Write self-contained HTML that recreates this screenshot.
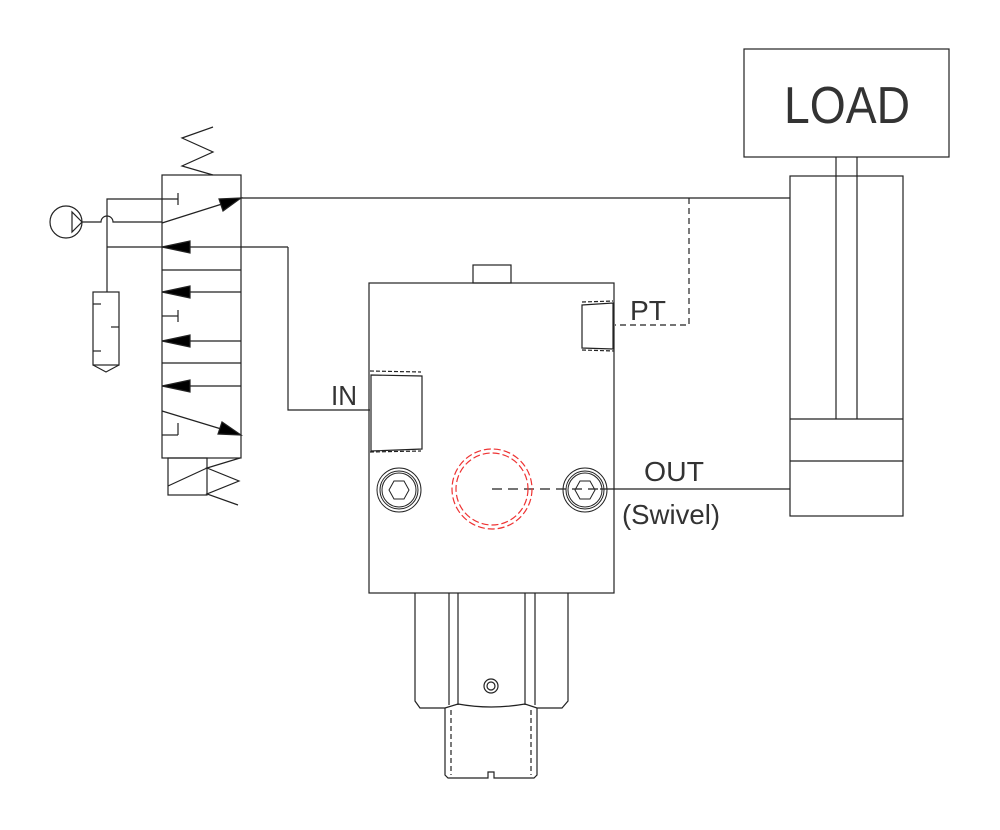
<!DOCTYPE html>
<html><head><meta charset="utf-8"><style>html,body{margin:0;background:#fff}svg{display:block}</style></head><body>
<svg width="1000" height="830" viewBox="0 0 1000 830" xmlns="http://www.w3.org/2000/svg" fill="none" stroke="#222" stroke-width="1.2">
<!-- LOAD -->
<rect x="744" y="49" width="205" height="108"/>
<text x="784" y="123" font-family="Liberation Sans, sans-serif" font-size="52" fill="#333" stroke="none" textLength="126" lengthAdjust="spacingAndGlyphs">LOAD</text>
<!-- cylinder -->
<rect x="790" y="176" width="113" height="340"/>
<line x1="836" y1="157" x2="836" y2="419"/><line x1="857" y1="157" x2="857" y2="419"/>
<line x1="790" y1="419" x2="903" y2="419"/><line x1="790" y1="461" x2="903" y2="461"/>
<!-- lines -->
<line x1="241" y1="198" x2="790" y2="198"/>
<polyline points="689,198 689,325 615,325" stroke-dasharray="6,4"/>
<line x1="600" y1="489" x2="790" y2="489"/>
<line x1="492" y1="489" x2="600" y2="489" stroke-dasharray="10,6"/>
<!-- valve -->
<rect x="162" y="175" width="79" height="283"/>
<line x1="162" y1="270" x2="241" y2="270"/><line x1="162" y1="363" x2="241" y2="363"/>
<polyline points="213,127 182,138 213,152 182,166 213,175"/>
<polyline points="107,292 107,199 178,199"/><line x1="178" y1="193" x2="178" y2="205"/>
<line x1="162" y1="223" x2="241" y2="198"/><polygon points="241,198 219,199 223,211" fill="#000"/>
<circle cx="66" cy="222" r="16"/><polygon points="72,212 72,232 82,222"/>
<path d="M82,222 H101 A6,6 0 0 1 113,222 H162"/>
<line x1="107" y1="247" x2="288" y2="247"/><polyline points="288,247 288,410 370,410"/>
<polygon points="162,247 190,241 190,253" fill="#000"/>
<rect x="93" y="292" width="26" height="73"/><polyline points="93,365 106,372 119,365"/>
<line x1="93" y1="304" x2="101" y2="304"/><line x1="111" y1="327" x2="119" y2="327"/><line x1="93" y1="351" x2="101" y2="351"/>
<line x1="162" y1="292" x2="241" y2="292"/><polygon points="162,292 190,286 190,298" fill="#000"/>
<line x1="162" y1="316" x2="178" y2="316"/><line x1="178" y1="310" x2="178" y2="322"/>
<line x1="162" y1="341" x2="241" y2="341"/><polygon points="162,341 190,335 190,347" fill="#000"/>
<line x1="162" y1="386" x2="241" y2="386"/><polygon points="162,386 190,380 190,392" fill="#000"/>
<line x1="162" y1="411" x2="241" y2="435"/><polygon points="241,435 218,434 222,422" fill="#000"/>
<line x1="162" y1="435" x2="178" y2="435"/><line x1="178" y1="423" x2="178" y2="435"/>
<rect x="168" y="458" width="39" height="37"/><line x1="168" y1="486" x2="207" y2="468"/>
<polyline points="240,458 207,468 239,481 207,494 238,505"/>
<!-- block -->
<rect x="369" y="283" width="245" height="310"/>
<rect x="473" y="265" width="38" height="18"/>
<polygon points="582,305 613,303 613,349 582,348"/>
<polyline points="582,302 613,301" stroke-dasharray="4,2"/><polyline points="582,350 614,351" stroke-dasharray="4,2"/>
<polygon points="371,375 422,376 422,449 371,451"/>
<polyline points="370,371 421,372" stroke-dasharray="4,2"/><polyline points="370,452 421,451" stroke-dasharray="4,2"/>
<g stroke-width="1">
<circle cx="399" cy="490" r="22"/><circle cx="399" cy="490" r="19"/><circle cx="399" cy="490" r="17"/>
<polygon points="389,490 394,481 404,481 409,490 404,499 394,499"/>
<circle cx="585" cy="490" r="22"/><circle cx="585" cy="490" r="19"/><circle cx="585" cy="490" r="17"/>
<polygon points="575,490 580,481 590,481 595,490 590,499 580,499"/>
</g>
<circle cx="492" cy="489" r="40" stroke="#e33" stroke-dasharray="7,3"/>
<circle cx="492" cy="489" r="36" stroke="#e33" stroke-dasharray="7,3"/>
<!-- bottom fitting -->
<path d="M415,593 V701 L420,708 H445 L458,704 Q491,710 525,704 L537,708 H562 L568,701 V593"/>
<line x1="449" y1="593" x2="449" y2="705"/><line x1="458" y1="593" x2="458" y2="705"/>
<line x1="525" y1="593" x2="525" y2="705"/><line x1="535" y1="593" x2="535" y2="705"/>
<circle cx="491" cy="686" r="7"/><circle cx="491" cy="686" r="4"/>
<path d="M445,708 V775 L448,778 H488 V772 H494 V778 H534 L537,775 V708"/>
<line x1="451" y1="710" x2="451" y2="775" stroke-dasharray="5,3"/><line x1="531" y1="710" x2="531" y2="775" stroke-dasharray="5,3"/>
<!-- labels -->
<g font-family="Liberation Sans, sans-serif" font-size="28" fill="#333" stroke="none" lengthAdjust="spacingAndGlyphs">
<text x="331" y="405" textLength="26" lengthAdjust="spacingAndGlyphs">IN</text>
<text x="630" y="320" textLength="36" lengthAdjust="spacingAndGlyphs">PT</text>
<text x="644" y="481" textLength="60" lengthAdjust="spacingAndGlyphs">OUT</text>
<text x="622" y="524" textLength="98" lengthAdjust="spacingAndGlyphs">(Swivel)</text>
</g>
</svg>
</body></html>
